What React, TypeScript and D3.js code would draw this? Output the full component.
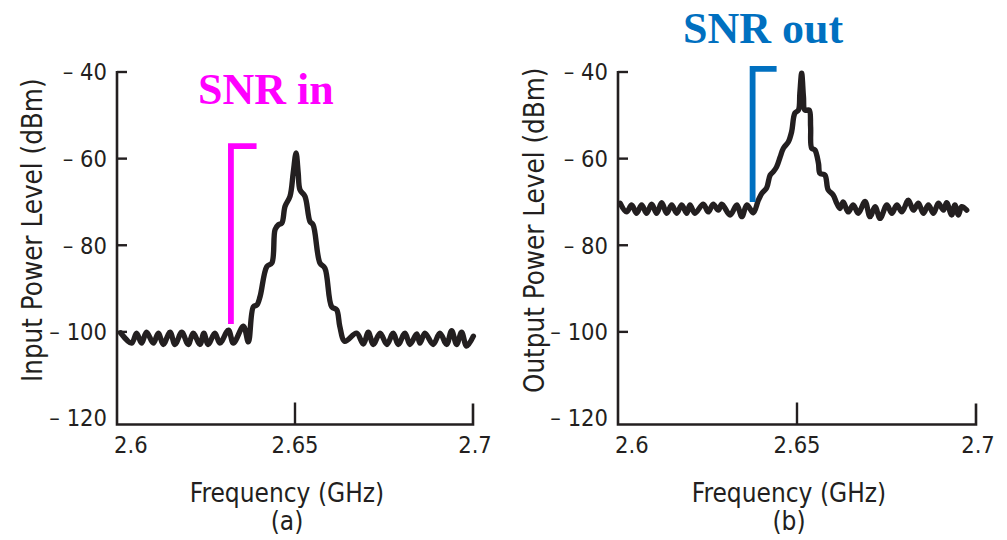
import React from "react";
import * as d3 from "d3";

// ---------- data ----------
const yTicks = [-40, -60, -80, -100, -120];
const yTickLabels = ["\u2013 40", "\u2013 60", "\u2013 80", "\u2013 100", "\u2013 120"];
const xTicks = [2.6, 2.65, 2.7];
const xTickLabels = ["2.6", "2.65", "2.7"];

// Panel (a): input spectrum
const inFreq = [
  2.6010, 2.6041, 2.6055, 2.6069, 2.6083, 2.6102, 2.6116, 2.6130, 2.6149, 2.6163,
  2.6182, 2.6200, 2.6214, 2.6233, 2.6244, 2.6256, 2.6275, 2.6289, 2.6313, 2.6327,
  2.6355, 2.6369, 2.6383, 2.6393, 2.6402, 2.6421, 2.6435, 2.6444, 2.6453, 2.6463,
  2.6472, 2.6486, 2.6495, 2.6503, 2.6509, 2.6514, 2.6528, 2.6542, 2.6551, 2.6570,
  2.6584, 2.6603, 2.6617, 2.6626, 2.6640, 2.6673, 2.6692, 2.6706, 2.6720, 2.6739,
  2.6758, 2.6776, 2.6790, 2.6809, 2.6823, 2.6842, 2.6851, 2.6865, 2.6888, 2.6907,
  2.6926, 2.6940, 2.6954, 2.6968, 2.6982, 2.7001,
];
const inPower = [
  -100.2, -102.6, -100.3, -102.6, -100.1, -102.6, -100.3, -102.9, -100.1, -102.9,
  -100.1, -102.9, -100.3, -102.9, -100.3, -102.9, -100.3, -102.6, -99.6, -102.6,
  -98.7, -102.3, -94.2, -93.8, -91.8, -84.9, -84.1, -76.4, -75.3, -74.9,
  -71.0, -68.7, -63.3, -58.7, -63.3, -67.2, -68.7, -74.5, -75.3, -84.1,
  -85.3, -94.2, -94.9, -98.8, -102.2, -100.3, -102.8, -100.1, -102.9, -100.3,
  -102.9, -100.3, -102.9, -100.3, -102.9, -100.5, -102.6, -100.3, -102.9, -100.3,
  -102.9, -99.7, -102.9, -100.1, -103.3, -101.0,
];

// Panel (b): output spectrum
const outFreq = [
  2.6006, 2.6024, 2.6038, 2.6052, 2.6066, 2.6080, 2.6094, 2.6108, 2.6122, 2.6136,
  2.6150, 2.6164, 2.6178, 2.6192, 2.6201, 2.6215, 2.6238, 2.6252, 2.6266, 2.6280,
  2.6290, 2.6313, 2.6332, 2.6346, 2.6360, 2.6378, 2.6392, 2.6402, 2.6415, 2.6425,
  2.6434, 2.6443, 2.6453, 2.6462, 2.6476, 2.6485, 2.6494, 2.6504, 2.6508, 2.6513,
  2.6518, 2.6522, 2.6534, 2.6538, 2.6541, 2.6550, 2.6560, 2.6564, 2.6578, 2.6587,
  2.6601, 2.6611, 2.6620, 2.6629, 2.6643, 2.6657, 2.6671, 2.6690, 2.6704, 2.6718,
  2.6732, 2.6751, 2.6765, 2.6779, 2.6793, 2.6811, 2.6825, 2.6839, 2.6853, 2.6867,
  2.6881, 2.6895, 2.6909, 2.6918, 2.6932, 2.6941, 2.6951, 2.6960, 2.6974,
];
const outPower = [
  -70.3, -72.3, -70.7, -72.6, -70.7, -72.6, -70.5, -72.6, -70.2, -72.6,
  -70.7, -72.6, -70.7, -72.6, -70.7, -72.6, -70.5, -72.3, -70.5, -71.9,
  -70.5, -73.0, -70.7, -73.4, -70.7, -72.5, -69.6, -68.0, -66.8, -63.8,
  -63.0, -61.9, -59.6, -57.6, -56.1, -53.8, -49.5, -48.8, -44.9, -40.3,
  -45.7, -48.8, -48.8, -52.6, -57.6, -58.0, -61.1, -63.4, -63.8, -67.2,
  -68.4, -70.3, -71.5, -70.0, -72.3, -70.7, -72.6, -69.9, -73.4, -71.1,
  -73.8, -70.7, -72.6, -70.7, -72.3, -69.6, -71.9, -70.3, -72.6, -70.7,
  -72.6, -70.3, -71.9, -70.2, -73.0, -70.7, -73.0, -71.1, -71.9,
];

// SNR brackets: [freq of vertical bar, freq of end of top bar], [top level, bottom level]
const snrInFreq = [2.6320, 2.6392];
const snrInLevel = [-57.1, -98.2];
const snrOutFreq = [2.6376, 2.6443];
const snrOutLevel = [-39.3, -70.0];

// ---------- styles ----------
const INK = "#231f20";
const MAGENTA = "#ff00ff";
const BLUE = "#0070c0";
const SANS = "'DejaVu Sans Condensed', 'DejaVu Sans', sans-serif";
const SERIF = "'Liberation Serif', 'DejaVu Serif', serif";

type PanelProps = {
  x0: number;
  x1: number;
  freq: number[];
  power: number[];
  yTitle: string;
  titleX: number;
  caption: string;
  snrFreq: number[];
  snrLevel: number[];
  snrColor: string;
  snrText: string;
  snrTextX: number;
  snrTextY: number;
};

function Panel(p: PanelProps) {
  const x = d3.scaleLinear().domain([2.6, 2.7]).range([p.x0, p.x1]);
  const y = d3.scaleLinear().domain([-40, -120]).range([72, 418.5]);
  const baseY = y(-120) + 6;
  const pts = p.freq.map((f, i) => [f, p.power[i]] as [number, number]);
  const line = d3
    .line<[number, number]>()
    .x((d) => x(d[0]))
    .y((d) => y(d[1]))
    .curve(d3.curveCatmullRom.alpha(0.5));
  const bracket = `M${x(p.snrFreq[0])},${y(p.snrLevel[1])}V${y(p.snrLevel[0])}H${x(p.snrFreq[1])}`;
  const cx = (p.x0 + p.x1) / 2 - 8;
  const titleY = (y(-40) + baseY) / 2 - 18;
  return (
    <g>
      {/* axes */}
      <path
        d={`M${x(2.6)},${y(-40) - 1}V${baseY}H${x(2.7)}V${baseY - 21}`}
        fill="none"
        stroke={INK}
        strokeWidth={2.6}
      />
      {yTicks.slice(0, 4).map((t) => (
        <line key={t} x1={x(2.6)} x2={x(2.6) + 10} y1={y(t)} y2={y(t)} stroke={INK} strokeWidth={2.4} />
      ))}
      <line x1={x(2.65)} x2={x(2.65)} y1={baseY} y2={baseY - 22} stroke={INK} strokeWidth={2.4} />
      {yTicks.map((t, i) => (
        <text
          key={t}
          x={x(2.6) - 10}
          y={i === 4 ? y(t) - 1 : y(t)}
          dy="0.36em"
          textAnchor="end"
          fontFamily={SANS}
          fontStretch="condensed"
          fontSize={23.5}
          fill={INK}
        >
          {yTickLabels[i]}
        </text>
      ))}
      {xTicks.map((t, i) => (
        <text
          key={t}
          x={i === 0 ? x(t) - 3 : x(t) + (i === 2 ? 2 : 0)}
          y={453}
          textAnchor={i === 0 ? "start" : "middle"}
          fontFamily={SANS}
          fontStretch="condensed"
          fontSize={23.5}
          fill={INK}
        >
          {xTickLabels[i]}
        </text>
      ))}
      <text
        transform={`translate(${p.titleX},${titleY}) rotate(-90)`}
        textAnchor="middle"
        fontFamily={SANS}
        fontStretch="condensed"
        fontSize={27.5}
        fill={INK}
      >
        {p.yTitle}
      </text>
      <text x={cx} y={502} textAnchor="middle" fontFamily={SANS} fontStretch="condensed" fontSize={26} fill={INK}>
        Frequency (GHz)
      </text>
      <text x={cx} y={530} textAnchor="middle" fontFamily={SANS} fontStretch="condensed" fontSize={26} fill={INK}>
        {p.caption}
      </text>
      {/* curve */}
      <path
        d={line(pts) || ""}
        fill="none"
        stroke={INK}
        strokeWidth={5.4}
        strokeLinejoin="round"
        strokeLinecap="round"
      />
      {/* SNR annotation */}
      <path d={bracket} fill="none" stroke={p.snrColor} strokeWidth={5.8} strokeLinejoin="miter" />
      <text
        x={p.snrTextX}
        y={p.snrTextY}
        fontFamily={SERIF}
        fontWeight="bold"
        fontSize={44}
        fill={p.snrColor}
      >
        {p.snrText}
      </text>
    </g>
  );
}

export default function App() {
  return (
    <svg
      width={1007}
      height={540}
      viewBox="0 0 1007 540"
      style={{ position: "absolute", left: 0, top: 0, background: "#fff" }}
    >
      <rect width={1007} height={540} fill="#fff" />
      <Panel
        x0={117}
        x1={473}
        freq={inFreq}
        power={inPower}
        yTitle="Input Power Level (dBm)"
        titleX={42}
        caption="(a)"
        snrFreq={snrInFreq}
        snrLevel={snrInLevel}
        snrColor={MAGENTA}
        snrText="SNR in"
        snrTextX={198}
        snrTextY={104}
      />
      <Panel
        x0={618}
        x1={976}
        freq={outFreq}
        power={outPower}
        yTitle="Output Power Level (dBm)"
        titleX={544}
        caption="(b)"
        snrFreq={snrOutFreq}
        snrLevel={snrOutLevel}
        snrColor={BLUE}
        snrText="SNR out"
        snrTextX={683}
        snrTextY={43}
      />
    </svg>
  );
}
